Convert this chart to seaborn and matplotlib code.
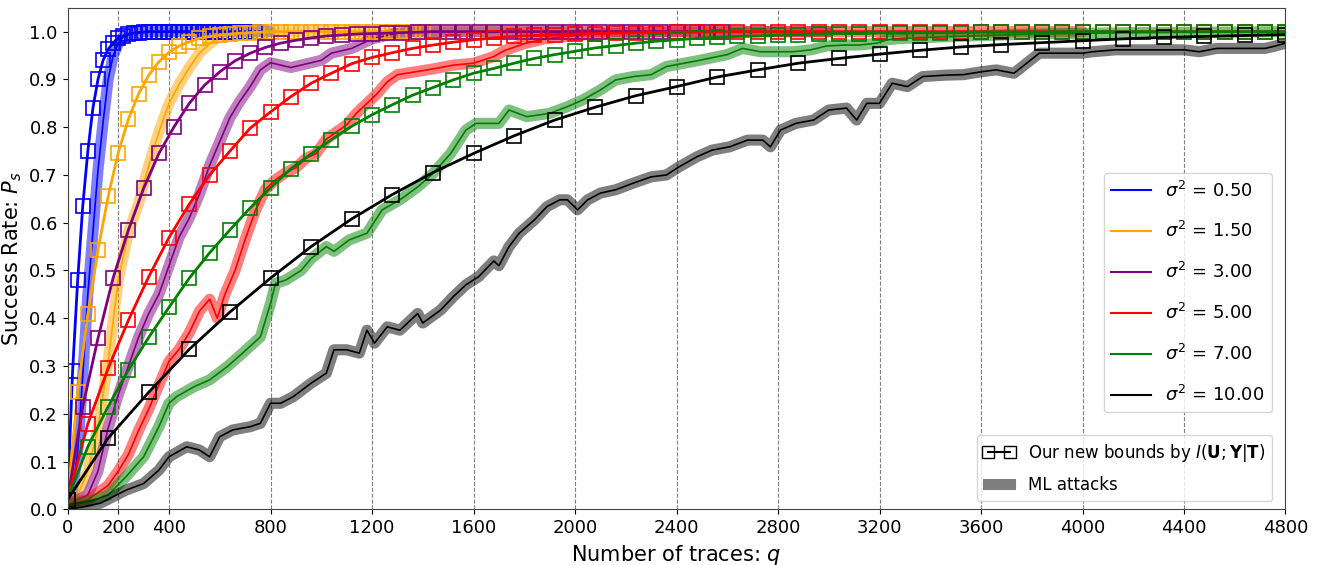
import numpy as np
import matplotlib
matplotlib.use("Agg")
import matplotlib.pyplot as plt
from matplotlib.lines import Line2D
import seaborn as sns

# noise levels and colours
sigma2 = [0.50, 1.50, 3.00, 5.00, 7.00, 10.00]
colors = ["blue", "orange", "purple", "red", "green", "black"]

# bound curves (square markers), one value per marker position
bound_x = {
    0.50: np.arange(0, 761, 20),
    1.50: np.arange(0, 1401, 40),
    3.00: np.arange(0, 2581, 60),
    5.00: np.arange(0, 4801, 80),
    7.00: np.arange(0, 4801, 80),
    10.00: np.arange(0, 4801, 160),
}
bound_y = {
    0.50: [0.02, 0.29, 0.48, 0.635, 0.75, 0.84, 0.90, 0.94, 0.963, 0.977,
           0.986, 0.991, 0.995, 0.997, 0.998, 0.999,
           1.0, 1.0, 1.0, 1.0, 1.0, 1.0, 1.0, 1.0, 1.0, 1.0, 1.0, 1.0,
           1.0, 1.0, 1.0, 1.0, 1.0, 1.0, 1.0, 1.0, 1.0, 1.0, 1.0],
    1.50: [0.02, 0.246, 0.408, 0.543, 0.655, 0.747, 0.817, 0.870, 0.909, 0.937,
           0.957, 0.970, 0.979, 0.986, 0.990, 0.993, 0.995, 0.997, 0.998, 0.999,
           1.0, 1.0, 1.0, 1.0, 1.0, 1.0, 1.0, 1.0,
           1.0, 1.0, 1.0, 1.0, 1.0, 1.0, 1.0, 1.0],
    3.00: [0.02, 0.215, 0.358, 0.485, 0.585, 0.672, 0.745, 0.801, 0.850, 0.888,
           0.916, 0.939, 0.955, 0.967, 0.976, 0.982, 0.987, 0.991, 0.993, 0.995,
           0.996, 0.997, 0.998, 0.999,
           1.0, 1.0, 1.0, 1.0, 1.0, 1.0, 1.0, 1.0, 1.0, 1.0,
           1.0, 1.0, 1.0, 1.0, 1.0, 1.0, 1.0, 1.0, 1.0, 1.0],
    5.00: [0.02, 0.179, 0.295, 0.396, 0.487, 0.569, 0.639, 0.700, 0.750, 0.798,
           0.832, 0.864, 0.892, 0.913, 0.933, 0.946, 0.956, 0.965, 0.972, 0.978,
           0.983, 0.987, 0.990, 0.992, 0.994, 0.995, 0.996, 0.997, 0.998, 0.998,
           0.999, 0.999,
           1.0, 1.0, 1.0, 1.0, 1.0, 1.0, 1.0, 1.0, 1.0, 1.0,
           1.0, 1.0, 1.0, 1.0, 1.0, 1.0, 1.0, 1.0, 1.0, 1.0,
           1.0, 1.0, 1.0, 1.0, 1.0, 1.0, 1.0, 1.0, 1.0],
    7.00: [0.02, 0.131, 0.215, 0.292, 0.360, 0.423, 0.484, 0.537, 0.585, 0.631,
           0.673, 0.713, 0.744, 0.774, 0.802, 0.826, 0.847, 0.867, 0.883, 0.899,
           0.913, 0.923, 0.934, 0.944, 0.952, 0.959, 0.966, 0.971, 0.976, 0.980,
           0.983, 0.986, 0.988, 0.990, 0.991, 0.993, 0.994, 0.995, 0.996, 0.996,
           0.997, 0.997, 0.998, 0.998, 0.998, 0.999, 0.999, 0.999, 0.999,
           1.0, 1.0, 1.0, 1.0, 1.0, 1.0, 1.0, 1.0, 1.0, 1.0, 1.0, 1.0],
    10.00: [0.02, 0.149, 0.245, 0.335, 0.413, 0.484, 0.550, 0.608, 0.659, 0.705,
            0.745, 0.782, 0.815, 0.842, 0.866, 0.885, 0.905, 0.920, 0.934, 0.944,
            0.953, 0.961, 0.968, 0.973, 0.977, 0.981, 0.985, 0.988, 0.990, 0.992,
            0.994],
}

# empirical ML attack success rates
ml_x = {
    0.50: [0, 20, 40, 60, 80, 100, 120, 140, 160, 180, 200, 220, 260, 300, 800],
    1.50: [0, 40, 80, 120, 160, 200, 240, 280, 320, 360, 400, 440, 480, 520,
           560, 600, 680, 800, 2000],
    3.00: [0, 80, 120, 160, 200, 240, 280, 320, 360, 400, 440, 480, 520, 560,
           600, 640, 680, 720, 760, 800, 840, 880, 920, 960, 1000, 1040, 1080,
           1120, 1160, 1200, 1280, 1360, 3000],
    5.00: [0, 80, 160, 200, 240, 280, 320, 360, 400, 440, 480, 520, 560, 590,
           620, 660, 700, 740, 780, 820, 860, 900, 940, 980, 1020, 1060, 1100,
           1140, 1180, 1220, 1260, 1300, 1360, 1440, 1520, 1600, 1680, 1720,
           1800, 1880, 1960, 2040, 2200, 2400, 4000],
    7.00: [0, 80, 160, 230, 300, 360, 400, 430, 500, 560, 630, 690, 760, 800,
           820, 860, 920, 960, 1020, 1050, 1110, 1180, 1240, 1310, 1380, 1440,
           1510, 1570, 1610, 1700, 1740, 1810, 1900, 1970, 2030, 2100, 2160,
           2230, 2300, 2360, 2430, 2490, 2600, 2660, 2730, 2860, 2930, 2990,
           3060, 3120, 3190, 3230, 3290, 3500, 3800, 4200, 4800],
    10.00: [0, 60, 130, 230, 300, 360, 400, 470, 520, 560, 600, 650, 720, 760,
            800, 840, 890, 960, 1020, 1050, 1100, 1150, 1180, 1210, 1260, 1310,
            1380, 1400, 1470, 1520, 1570, 1620, 1680, 1700, 1740, 1780, 1840,
            1890, 1940, 1970, 2010, 2050, 2100, 2160, 2230, 2300, 2360, 2410,
            2480, 2540, 2610, 2680, 2740, 2770, 2810, 2870, 2940, 3000, 3070,
            3110, 3150, 3200, 3250, 3310, 3370, 3460, 3530, 3600, 3660, 3730,
            3780, 3830, 3940, 4000, 4040, 4130, 4260, 4400, 4460, 4530, 4590,
            4720, 4760, 4800],
}
ml_y = {
    0.50: [0.01, 0.04, 0.12, 0.28, 0.45, 0.58, 0.71, 0.81, 0.90, 0.95, 0.975,
           0.99, 0.997, 1.0, 1.0],
    1.50: [0.01, 0.03, 0.08, 0.17, 0.31, 0.48, 0.58, 0.64, 0.72, 0.79, 0.85,
           0.89, 0.925, 0.955, 0.975, 0.99, 0.997, 1.0, 1.0],
    3.00: [0.01, 0.03, 0.08, 0.17, 0.24, 0.30, 0.36, 0.41, 0.45, 0.51, 0.57,
           0.61, 0.66, 0.72, 0.77, 0.82, 0.855, 0.885, 0.92, 0.935, 0.93, 0.925,
           0.93, 0.935, 0.94, 0.955, 0.96, 0.965, 0.975, 0.985, 0.995, 1.0, 1.0],
    5.00: [0.01, 0.02, 0.05, 0.08, 0.115, 0.165, 0.21, 0.26, 0.31, 0.335, 0.37,
           0.415, 0.44, 0.40, 0.45, 0.50, 0.565, 0.625, 0.67, 0.69, 0.705, 0.715,
           0.735, 0.745, 0.775, 0.79, 0.805, 0.83, 0.85, 0.87, 0.895, 0.91,
           0.915, 0.922, 0.93, 0.934, 0.948, 0.96, 0.975, 0.985, 0.99, 0.994,
           0.998, 1.0, 1.0],
    7.00: [0.01, 0.015, 0.03, 0.068, 0.11, 0.173, 0.222, 0.236, 0.257, 0.271,
           0.299, 0.327, 0.361, 0.431, 0.473, 0.48, 0.50, 0.525, 0.55, 0.54,
           0.564, 0.578, 0.627, 0.648, 0.675, 0.703, 0.745, 0.794, 0.808, 0.808,
           0.836, 0.822, 0.829, 0.843, 0.857, 0.878, 0.899, 0.906, 0.91, 0.927,
           0.934, 0.94, 0.952, 0.965, 0.958, 0.958, 0.962, 0.97, 0.972, 0.972,
           0.976, 0.983, 0.986, 0.99, 0.995, 0.998, 1.0],
    10.00: [0.0, 0.005, 0.013, 0.04, 0.054, 0.082, 0.11, 0.131, 0.124, 0.11,
            0.152, 0.166, 0.173, 0.18, 0.222, 0.222, 0.236, 0.264, 0.285, 0.334,
            0.334, 0.327, 0.375, 0.348, 0.382, 0.375, 0.41, 0.39, 0.417, 0.445,
            0.47, 0.487, 0.52, 0.51, 0.55, 0.578, 0.606, 0.634, 0.648, 0.648,
            0.627, 0.648, 0.662, 0.669, 0.683, 0.696, 0.70, 0.717, 0.738, 0.752,
            0.759, 0.773, 0.773, 0.759, 0.794, 0.808, 0.815, 0.836, 0.84, 0.815,
            0.85, 0.85, 0.892, 0.885, 0.906, 0.909, 0.91, 0.916, 0.92, 0.913,
            0.934, 0.955, 0.955, 0.955, 0.958, 0.962, 0.962, 0.962, 0.958, 0.965,
            0.965, 0.965, 0.97, 0.976],
}

xticks = [0, 200, 400, 800, 1200, 1600, 2000, 2400, 2800, 3200, 3600, 4000, 4400, 4800]
yticks = [0.0, 0.1, 0.2, 0.3, 0.4, 0.5, 0.6, 0.7, 0.8, 0.9, 1.0]

fig = plt.figure(figsize=(13.19, 5.65), dpi=100)
ax = fig.add_axes([0.0512, 0.0986, 0.9234, 0.8876])

for s, c in zip(sigma2, colors):
    # ML attack: thick translucent band + thin line
    sns.lineplot(x=ml_x[s], y=ml_y[s], ax=ax, color=c, lw=8, alpha=0.5,
                 solid_capstyle="round", solid_joinstyle="round")
    sns.lineplot(x=ml_x[s], y=ml_y[s], ax=ax, color=c, lw=1.2)
for s, c in zip(sigma2, colors):
    sns.lineplot(x=bound_x[s], y=bound_y[s], ax=ax, color=c, lw=2,
                 marker="s", markersize=10, markerfacecolor="none",
                 markeredgecolor=c, markeredgewidth=1.2)

ax.set_xlim(0, 4800)
ax.set_ylim(0, 1.05)
ax.set_xticks(xticks)
ax.set_yticks(yticks)
ax.set_xticklabels([str(t) for t in xticks], fontsize=13)
ax.set_yticklabels([f"{t:.1f}" for t in yticks], fontsize=13)
ax.grid(axis="x", linestyle="--", color="gray", lw=0.8)
ax.set_axisbelow(True)
for sp in ax.spines.values():
    sp.set_color("#444444")
ax.set_xlabel("Number of traces: $q$", fontsize=15)
ax.set_ylabel("Success Rate: $P_s$", fontsize=15)

h1 = [Line2D([], [], color=c, lw=1.5) for c in colors]
l1 = [r"$\sigma^2$ = %.2f" % s for s in sigma2]
leg1 = ax.legend(h1, l1, loc="upper right", bbox_to_anchor=(0.996, 0.688),
                 fontsize=13, labelspacing=1.15, handlelength=2.2)
ax.add_artist(leg1)

h2 = [Line2D([], [], color="black", lw=1.5, marker="s", markersize=9,
             markerfacecolor="none"),
      Line2D([], [], color="black", lw=8, alpha=0.5)]
l2 = [r"Our new bounds by $I(\mathbf{U};\mathbf{Y}|\mathbf{T})$", "ML attacks"]
ax.legend(h2, l2, loc="lower right", bbox_to_anchor=(0.996, 0.0), fontsize=12,
          numpoints=2, handlelength=1.9, labelspacing=0.75)

fig.savefig("out.png", dpi=100)
